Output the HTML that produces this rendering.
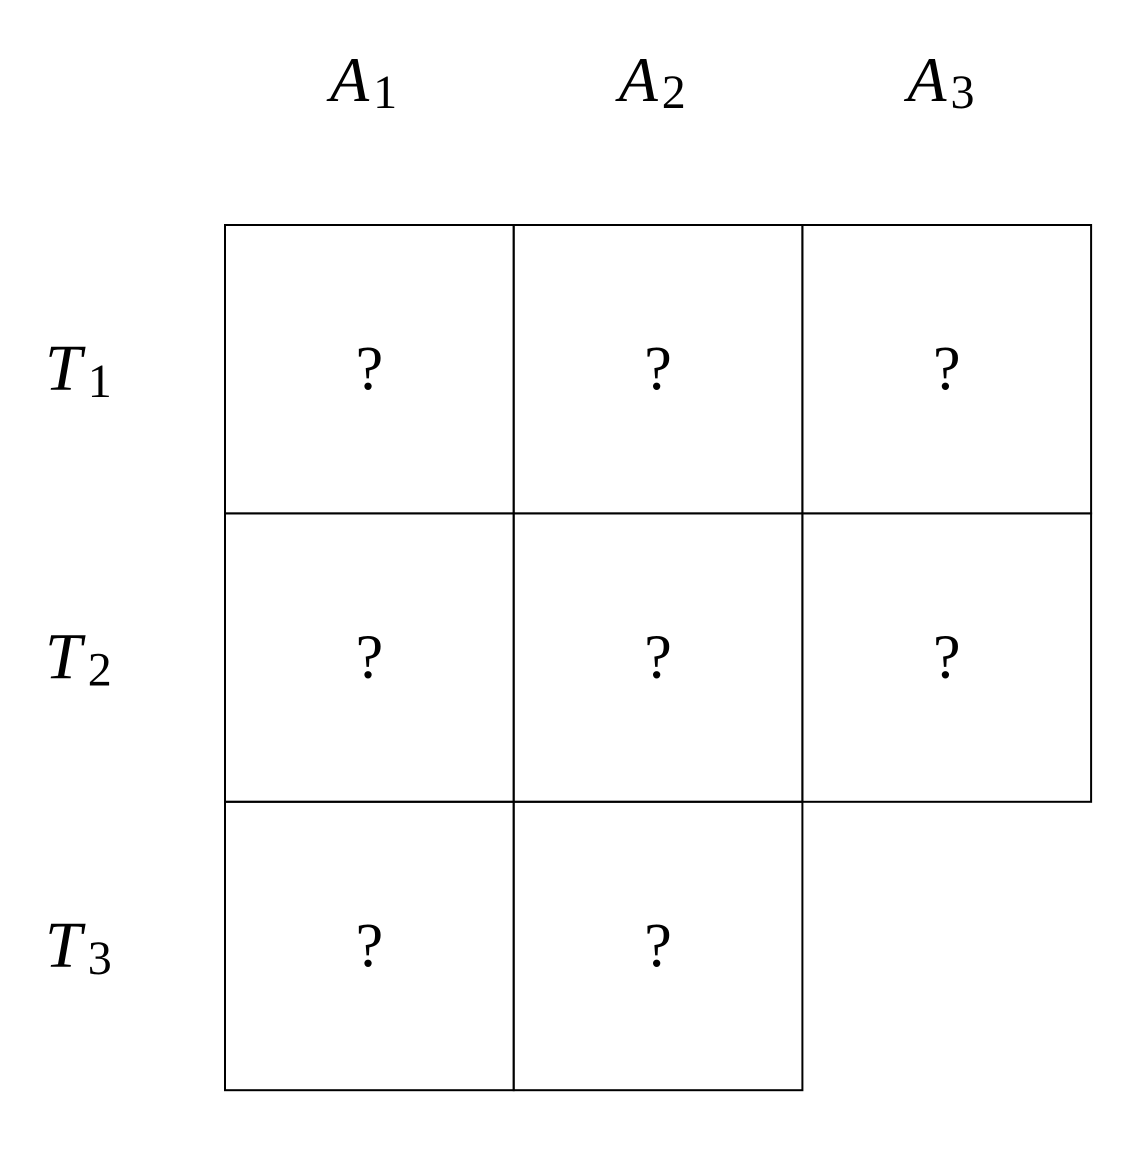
<!DOCTYPE html>
<html><head><meta charset="utf-8"><style>
html,body{margin:0;padding:0;background:#fff;}
svg{display:block;}
text{font-family:"Liberation Serif",serif;fill:#000;}
</style></head><body>
<svg id="chart" width="1138" height="1150" viewBox="0 0 1138 1150"></svg>
<script>
const colLabels = ["1","2","3"];
const rowLabels = ["1","2","3"];
const cellCounts = [3, 3, 2];
const cellValues = [["?","?","?"],["?","?","?"],["?","?"]];

const svg = document.getElementById('chart');
const NS = "http://www.w3.org/2000/svg";
const x0 = 225, y0 = 225, cw = 288.7, ch = 288.4;
const colX = i => x0 + i * cw;
const rowY = j => y0 + j * ch;

function mk(tag, attrs){ const e = document.createElementNS(NS, tag); for (const k in attrs) e.setAttribute(k, attrs[k]); svg.appendChild(e); return e; }

colLabels.forEach((l, i) => {
  const t = mk('text', {x: colX(i) + 105, y: 101, 'text-anchor': 'start', 'font-size': 64, 'font-style': 'italic'});
  
  
  t.innerHTML = 'A<tspan font-size="48" font-style="normal" dx="4" dy="7">' + l + '</tspan>';
});
rowLabels.forEach((l, j) => {
  const t = mk('text', {x: 45, y: rowY(j) + ch/2 + 21, 'text-anchor': 'start', 'font-size': 66, 'font-style': 'italic'});
  
  
  t.innerHTML = 'T<tspan font-size="48" font-style="normal" dx="6" dy="7">' + l + '</tspan>';
});
cellCounts.forEach((n, j) => {
  for (let i = 0; i < n; i++) {
    const r = mk('rect', {x: colX(i), y: rowY(j), width: cw, height: ch, fill: 'none', stroke: '#000', 'stroke-width': 2});
    
    
    const t = mk('text', {x: colX(i) + cw/2, y: rowY(j) + ch/2 + 20, 'text-anchor': 'middle', 'font-size': 62});
    
    
    t.textContent = cellValues[j][i];
  }
});
</script>
</body></html>
